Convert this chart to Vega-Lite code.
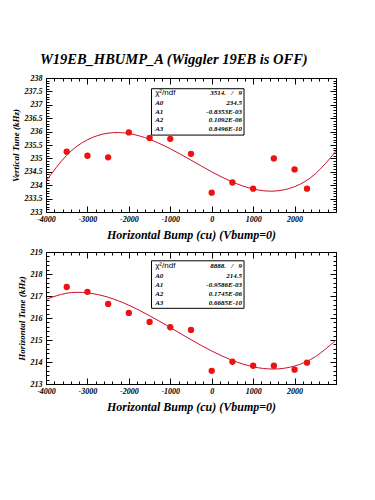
{
  "$schema": "https://vega.github.io/schema/vega-lite/v6.json",
  "background": "white",
  "padding": {"left": 10, "top": 52, "right": 5, "bottom": 5},
  "title": {"text": "W19EB_HBUMP_A (Wiggler 19EB is OFF)", "font": "Liberation Serif", "fontSize": 14.5, "fontStyle": "italic", "fontWeight": "bold", "color": "black", "anchor": "middle", "offset": 6},
  "spacing": 6,
  "config": {
    "view": {"stroke": "black", "strokeWidth": 1},
    "axis": {"domain": false, "grid": false, "tickColor": "black", "tickWidth": 1, "tickSize": -6, "labelFont": "Liberation Serif", "labelFontSize": 8, "labelFontStyle": "italic", "labelFontWeight": "bold", "labelColor": "black", "labelFlush": false, "labelOverlap": false, "titleFont": "Liberation Serif", "titleFontStyle": "italic", "titleFontWeight": "bold", "titleColor": "black"}
  },
  "datasets": {
    "pts1": [
      {"x": -3500, "y": 235.25}, {"x": -3000, "y": 235.1}, {"x": -2500, "y": 235.04}, {"x": -2000, "y": 235.97},
      {"x": -1500, "y": 235.76}, {"x": -1000, "y": 235.73}, {"x": -500, "y": 235.17}, {"x": 0, "y": 233.72},
      {"x": 500, "y": 234.1}, {"x": 1000, "y": 233.87}, {"x": 1500, "y": 235.0}, {"x": 2000, "y": 234.59}, {"x": 2300, "y": 233.87}
    ],
    "fit1": [
      {"x": -4000, "y": 234.151}, {"x": -3500, "y": 235.119}, {"x": -3000, "y": 235.695}, {"x": -2500, "y": 235.943},
      {"x": -2000, "y": 235.928}, {"x": -1500, "y": 235.712}, {"x": -1000, "y": 235.36}, {"x": -500, "y": 234.934},
      {"x": 0, "y": 234.5}, {"x": 500, "y": 234.12}, {"x": 1000, "y": 233.859}, {"x": 1500, "y": 233.78},
      {"x": 2000, "y": 233.946}, {"x": 2500, "y": 234.422}, {"x": 3000, "y": 235.271}
    ],
    "box1": [{"x1": -1453, "x2": 780, "y1": 237.6, "y2": 235.87}],
    "head1": [{"x": -1365, "y": 237.43, "t": "χ²/ndf"}],
    "lab1": [
      {"x": -1365, "y": 237.08, "t": "A0"}, {"x": -1365, "y": 236.75, "t": "A1"},
      {"x": -1365, "y": 236.42, "t": "A2"}, {"x": -1365, "y": 236.09, "t": "A3"}
    ],
    "val1": [
      {"x": 730, "y": 237.43, "t": "3514.\u00a0\u00a0\u00a0/\u00a0\u00a0\u00a09"}, {"x": 730, "y": 237.08, "t": "234.5"},
      {"x": 730, "y": 236.75, "t": "-0.8353E-03"}, {"x": 730, "y": 236.42, "t": "0.1092E-06"}, {"x": 730, "y": 236.09, "t": "0.8496E-10"}
    ],
    "pts2": [
      {"x": -3500, "y": 217.41}, {"x": -3000, "y": 217.19}, {"x": -2500, "y": 216.64}, {"x": -2000, "y": 216.23},
      {"x": -1500, "y": 215.82}, {"x": -1000, "y": 215.58}, {"x": -500, "y": 215.46}, {"x": 0, "y": 213.6},
      {"x": 500, "y": 214.01}, {"x": 1000, "y": 213.83}, {"x": 1500, "y": 213.83}, {"x": 2000, "y": 213.65}, {"x": 2300, "y": 213.97}
    ],
    "fit2": [
      {"x": -4000, "y": 216.848}, {"x": -3500, "y": 217.127}, {"x": -3000, "y": 217.141}, {"x": -2500, "y": 216.943},
      {"x": -2000, "y": 216.58}, {"x": -1500, "y": 216.105}, {"x": -1000, "y": 215.566}, {"x": -500, "y": 215.015},
      {"x": 0, "y": 214.5}, {"x": 500, "y": 214.073}, {"x": 1000, "y": 213.783}, {"x": 1500, "y": 213.68},
      {"x": 2000, "y": 213.816}, {"x": 2500, "y": 214.239}, {"x": 3000, "y": 215.0}
    ],
    "box2": [{"x1": -1453, "x2": 780, "y1": 218.6, "y2": 216.44}],
    "head2": [{"x": -1365, "y": 218.38, "t": "χ²/ndf"}],
    "lab2": [
      {"x": -1365, "y": 217.9, "t": "A0"}, {"x": -1365, "y": 217.5, "t": "A1"},
      {"x": -1365, "y": 217.1, "t": "A2"}, {"x": -1365, "y": 216.7, "t": "A3"}
    ],
    "val2": [
      {"x": 730, "y": 218.38, "t": "8888.\u00a0\u00a0\u00a0/\u00a0\u00a0\u00a09"}, {"x": 730, "y": 217.9, "t": "214.5"},
      {"x": 730, "y": 217.5, "t": "-0.9586E-03"}, {"x": 730, "y": 217.1, "t": "0.1745E-06"}, {"x": 730, "y": 216.7, "t": "0.6685E-10"}
    ]
  },
  "vconcat": [
    {
      "width": 290, "height": 134,
      "resolve": {"axis": {"x": "independent", "y": "independent"}},
      "layer": [
        {"data": {"name": "fit1"}, "mark": {"type": "line", "color": "#c8102e", "strokeWidth": 1, "interpolate": "natural", "clip": true},
         "encoding": {
           "x": {"field": "x", "type": "quantitative", "scale": {"domain": [-4000, 3000], "nice": false}, "axis": {"orient": "top", "values": [-4000, -3000, -2000, -1000, 0, 1000, 2000, 3000], "labels": false, "title": null}},
           "y": {"field": "y", "type": "quantitative", "scale": {"domain": [233, 238], "nice": false, "zero": false}, "axis": {"orient": "right", "values": [233, 233.5, 234, 234.5, 235, 235.5, 236, 236.5, 237, 237.5, 238], "labels": false, "title": null}}}},
        {"data": {"name": "box1"}, "mark": {"type": "rect", "fill": "white", "stroke": "black", "strokeWidth": 1},
         "encoding": {
           "x": {"field": "x1", "type": "quantitative", "axis": {"orient": "bottom", "values": [-4000,-3800,-3600,-3400,-3200,-3000,-2800,-2600,-2400,-2200,-2000,-1800,-1600,-1400,-1200,-1000,-800,-600,-400,-200,0,200,400,600,800,1000,1200,1400,1600,1800,2000,2200,2400,2600,2800,3000], "labels": false, "tickSize": -3, "title": null}},
           "x2": {"field": "x2"},
           "y": {"field": "y1", "type": "quantitative", "axis": {"orient": "left", "values": [233,233.1,233.2,233.3,233.4,233.5,233.6,233.7,233.8,233.9,234,234.1,234.2,234.3,234.4,234.5,234.6,234.7,234.8,234.9,235,235.1,235.2,235.3,235.4,235.5,235.6,235.7,235.8,235.9,236,236.1,236.2,236.3,236.4,236.5,236.6,236.7,236.8,236.9,237,237.1,237.2,237.3,237.4,237.5,237.6,237.7,237.8,237.9,238], "labels": false, "tickSize": -3, "title": null}},
           "y2": {"field": "y2"}}},
        {"data": {"name": "head1"}, "mark": {"type": "text", "align": "left", "baseline": "middle", "font": "Liberation Sans", "fontSize": 8, "color": "black"},
         "encoding": {
           "x": {"field": "x", "type": "quantitative", "axis": {"orient": "top", "values": [-4000,-3800,-3600,-3400,-3200,-3000,-2800,-2600,-2400,-2200,-2000,-1800,-1600,-1400,-1200,-1000,-800,-600,-400,-200,0,200,400,600,800,1000,1200,1400,1600,1800,2000,2200,2400,2600,2800,3000], "labels": false, "tickSize": -3, "title": null}},
           "y": {"field": "y", "type": "quantitative", "axis": {"orient": "right", "values": [233,233.1,233.2,233.3,233.4,233.5,233.6,233.7,233.8,233.9,234,234.1,234.2,234.3,234.4,234.5,234.6,234.7,234.8,234.9,235,235.1,235.2,235.3,235.4,235.5,235.6,235.7,235.8,235.9,236,236.1,236.2,236.3,236.4,236.5,236.6,236.7,236.8,236.9,237,237.1,237.2,237.3,237.4,237.5,237.6,237.7,237.8,237.9,238], "labels": false, "tickSize": -3, "title": null}},
           "text": {"field": "t"}}},
        {"data": {"name": "lab1"}, "mark": {"type": "text", "align": "left", "baseline": "middle", "font": "Liberation Serif", "fontSize": 7, "fontStyle": "italic", "fontWeight": "bold", "color": "black"},
         "encoding": {"x": {"field": "x", "type": "quantitative", "axis": null}, "y": {"field": "y", "type": "quantitative", "axis": null}, "text": {"field": "t"}}},
        {"data": {"name": "val1"}, "mark": {"type": "text", "align": "right", "baseline": "middle", "font": "Liberation Serif", "fontSize": 7, "fontStyle": "italic", "fontWeight": "bold", "color": "black"},
         "encoding": {"x": {"field": "x", "type": "quantitative", "axis": null}, "y": {"field": "y", "type": "quantitative", "axis": null}, "text": {"field": "t"}}},
        {"data": {"name": "pts1"}, "mark": {"type": "circle", "size": 40, "color": "#ee1111", "opacity": 1},
         "encoding": {
           "x": {"field": "x", "type": "quantitative", "axis": {"orient": "bottom", "values": [-4000, -3000, -2000, -1000, 0, 1000, 2000], "labelExpr": "'' + datum.value", "labelPadding": 9, "title": "Horizontal Bump (cu) (Vbump=0)", "titleFontSize": 12, "titlePadding": 6}},
           "y": {"field": "y", "type": "quantitative", "axis": {"orient": "left", "values": [233, 233.5, 234, 234.5, 235, 235.5, 236, 236.5, 237, 237.5, 238], "labelExpr": "'' + datum.value", "labelPadding": 10, "title": "Vertical Tune (kHz)", "titleFontSize": 9, "titlePadding": 4}}}}
      ]
    },
    {
      "width": 290, "height": 132,
      "resolve": {"axis": {"x": "independent", "y": "independent"}},
      "layer": [
        {"data": {"name": "fit2"}, "mark": {"type": "line", "color": "#c8102e", "strokeWidth": 1, "interpolate": "natural", "clip": true},
         "encoding": {
           "x": {"field": "x", "type": "quantitative", "scale": {"domain": [-4000, 3000], "nice": false}, "axis": {"orient": "top", "values": [-4000, -3000, -2000, -1000, 0, 1000, 2000, 3000], "labels": false, "title": null}},
           "y": {"field": "y", "type": "quantitative", "scale": {"domain": [213, 219], "nice": false, "zero": false}, "axis": {"orient": "right", "values": [213, 214, 215, 216, 217, 218, 219], "labels": false, "title": null}}}},
        {"data": {"name": "box2"}, "mark": {"type": "rect", "fill": "white", "stroke": "black", "strokeWidth": 1},
         "encoding": {
           "x": {"field": "x1", "type": "quantitative", "axis": {"orient": "bottom", "values": [-4000,-3800,-3600,-3400,-3200,-3000,-2800,-2600,-2400,-2200,-2000,-1800,-1600,-1400,-1200,-1000,-800,-600,-400,-200,0,200,400,600,800,1000,1200,1400,1600,1800,2000,2200,2400,2600,2800,3000], "labels": false, "tickSize": -3, "title": null}},
           "x2": {"field": "x2"},
           "y": {"field": "y1", "type": "quantitative", "axis": {"orient": "left", "values": [213,213.2,213.4,213.6,213.8,214,214.2,214.4,214.6,214.8,215,215.2,215.4,215.6,215.8,216,216.2,216.4,216.6,216.8,217,217.2,217.4,217.6,217.8,218,218.2,218.4,218.6,218.8,219], "labels": false, "tickSize": -3, "title": null}},
           "y2": {"field": "y2"}}},
        {"data": {"name": "head2"}, "mark": {"type": "text", "align": "left", "baseline": "middle", "font": "Liberation Sans", "fontSize": 8, "color": "black"},
         "encoding": {
           "x": {"field": "x", "type": "quantitative", "axis": {"orient": "top", "values": [-4000,-3800,-3600,-3400,-3200,-3000,-2800,-2600,-2400,-2200,-2000,-1800,-1600,-1400,-1200,-1000,-800,-600,-400,-200,0,200,400,600,800,1000,1200,1400,1600,1800,2000,2200,2400,2600,2800,3000], "labels": false, "tickSize": -3, "title": null}},
           "y": {"field": "y", "type": "quantitative", "axis": {"orient": "right", "values": [213,213.2,213.4,213.6,213.8,214,214.2,214.4,214.6,214.8,215,215.2,215.4,215.6,215.8,216,216.2,216.4,216.6,216.8,217,217.2,217.4,217.6,217.8,218,218.2,218.4,218.6,218.8,219], "labels": false, "tickSize": -3, "title": null}},
           "text": {"field": "t"}}},
        {"data": {"name": "lab2"}, "mark": {"type": "text", "align": "left", "baseline": "middle", "font": "Liberation Serif", "fontSize": 7, "fontStyle": "italic", "fontWeight": "bold", "color": "black"},
         "encoding": {"x": {"field": "x", "type": "quantitative", "axis": null}, "y": {"field": "y", "type": "quantitative", "axis": null}, "text": {"field": "t"}}},
        {"data": {"name": "val2"}, "mark": {"type": "text", "align": "right", "baseline": "middle", "font": "Liberation Serif", "fontSize": 7, "fontStyle": "italic", "fontWeight": "bold", "color": "black"},
         "encoding": {"x": {"field": "x", "type": "quantitative", "axis": null}, "y": {"field": "y", "type": "quantitative", "axis": null}, "text": {"field": "t"}}},
        {"data": {"name": "pts2"}, "mark": {"type": "circle", "size": 40, "color": "#ee1111", "opacity": 1},
         "encoding": {
           "x": {"field": "x", "type": "quantitative", "axis": {"orient": "bottom", "values": [-4000, -3000, -2000, -1000, 0, 1000, 2000], "labelExpr": "'' + datum.value", "labelPadding": 9, "title": "Horizontal Bump (cu) (Vbump=0)", "titleFontSize": 12, "titlePadding": 6}},
           "y": {"field": "y", "type": "quantitative", "axis": {"orient": "left", "values": [213, 214, 215, 216, 217, 218, 219], "labelExpr": "'' + datum.value", "labelPadding": 10, "title": "Horizontal Tune (kHz)", "titleFontSize": 9, "titlePadding": 4}}}}
      ]
    }
  ]
}
